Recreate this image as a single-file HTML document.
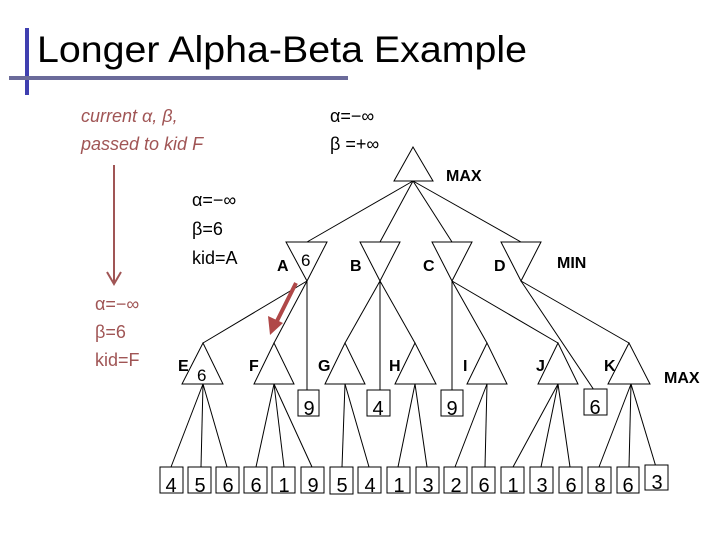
<!DOCTYPE html>
<html><head><meta charset="utf-8"><style>
html,body{margin:0;padding:0;background:#fff;}
svg{display:block;}
text{font-family:"Liberation Sans",sans-serif;}
</style></head><body>
<svg width="720" height="540" viewBox="0 0 720 540" xmlns="http://www.w3.org/2000/svg">
<rect x="0" y="0" width="720" height="540" fill="#fff"/>
<!-- title -->
<rect x="25" y="28" width="4" height="67" fill="#3f3fb0"/>
<rect x="9" y="76" width="339" height="4" fill="#6b6b9a"/>
<text x="37" y="62" font-size="37" fill="#000" textLength="490" lengthAdjust="spacingAndGlyphs">Longer Alpha-Beta Example</text>

<!-- top-left texts -->
<g fill="#a05555" font-size="18" font-style="italic">
<text x="81" y="122">current α, β,</text>
<text x="81" y="150">passed to kid F</text>
</g>
<g fill="#000" font-size="18">
<text x="330" y="122">α=−∞</text>
<text x="330" y="150">β =+∞</text>
<text x="192" y="206">α=−∞</text>
<text x="192" y="235">β=6</text>
<text x="192" y="264">kid=A</text>
</g>
<g fill="#a05555" font-size="18">
<text x="95" y="310">α=−∞</text>
<text x="95" y="338">β=6</text>
<text x="95" y="366">kid=F</text>
</g>
<!-- left arrow -->
<line x1="114" y1="165" x2="114" y2="282" stroke="#a05555" stroke-width="2"/>
<polyline points="107,272 114,284 121,272" fill="none" stroke="#a05555" stroke-width="2"/>

<!-- edges -->
<g stroke="#000" stroke-width="1" fill="none">
<line x1="413" y1="181" x2="307" y2="242"/>
<line x1="413" y1="181" x2="380" y2="242"/>
<line x1="413" y1="181" x2="452" y2="242"/>
<line x1="413" y1="181" x2="521" y2="242"/>
<line x1="307" y1="281" x2="203" y2="343"/>
<line x1="307" y1="281" x2="274" y2="343"/>
<line x1="307" y1="281" x2="307" y2="390"/>
<line x1="380" y1="281" x2="345" y2="343"/>
<line x1="380" y1="281" x2="380" y2="390"/>
<line x1="380" y1="281" x2="415" y2="343"/>
<line x1="452" y1="281" x2="452" y2="390"/>
<line x1="452" y1="281" x2="487" y2="343"/>
<line x1="452" y1="281" x2="558" y2="343"/>
<line x1="521" y1="281" x2="594" y2="390"/>
<line x1="521" y1="281" x2="629" y2="343"/>
<line x1="203" y1="384" x2="171" y2="467"/>
<line x1="203" y1="384" x2="201" y2="467"/>
<line x1="203" y1="384" x2="227" y2="467"/>
<line x1="274" y1="384" x2="256" y2="467"/>
<line x1="274" y1="384" x2="284" y2="467"/>
<line x1="274" y1="384" x2="312" y2="467"/>
<line x1="345" y1="384" x2="342" y2="467"/>
<line x1="345" y1="384" x2="369" y2="467"/>
<line x1="415" y1="384" x2="398" y2="467"/>
<line x1="415" y1="384" x2="427" y2="467"/>
<line x1="487" y1="384" x2="455" y2="467"/>
<line x1="487" y1="384" x2="485" y2="467"/>
<line x1="558" y1="384" x2="513" y2="467"/>
<line x1="558" y1="384" x2="541" y2="467"/>
<line x1="558" y1="384" x2="570" y2="467"/>
<line x1="631" y1="384" x2="599" y2="467"/>
<line x1="631" y1="384" x2="629" y2="467"/>
<line x1="631" y1="384" x2="656" y2="467"/>
</g>

<!-- triangles -->
<g stroke="#000" stroke-width="1" fill="#fff">
<polygon points="413,147 394,181 433,181"/>
<polygon points="286,242 327,242 307,281"/>
<polygon points="360,242 400,242 380,281"/>
<polygon points="432,242 472,242 452,281"/>
<polygon points="501,242 541,242 521,281"/>
</g>
<g stroke="#000" stroke-width="1" fill="none">
<polygon points="203,343 182,384 223,384"/>
<polygon points="274,343 254,384 294,384"/>
<polygon points="345,343 325,384 365,384"/>
<polygon points="415,343 395,384 436,384"/>
<polygon points="487,343 467,384 507,384"/>
<polygon points="558,343 538,384 578,384"/>
<polygon points="629,343 608,384 650,384"/>
</g>

<!-- mid boxes -->
<g stroke="#000" stroke-width="1" fill="#fff">
<rect x="298" y="390" width="21" height="26"/>
<rect x="367" y="390" width="23" height="26"/>
<rect x="441" y="390" width="22" height="26"/>
<rect x="584" y="389" width="23" height="26"/>
</g>
<g font-size="20" fill="#000" text-anchor="middle">
<text x="309" y="415">9</text>
<text x="378" y="415">4</text>
<text x="452" y="415">9</text>
<text x="595" y="414">6</text>
</g>

<!-- leaf boxes -->
<g stroke="#000" stroke-width="1" fill="#fff">
<rect x="160" y="467" width="23" height="26"/>
<rect x="188" y="467" width="23" height="26"/>
<rect x="216" y="467" width="23" height="26"/>
<rect x="244" y="467" width="23" height="26"/>
<rect x="272" y="467" width="23" height="26"/>
<rect x="301" y="467" width="23" height="26"/>
<rect x="330" y="467" width="23" height="27"/>
<rect x="358" y="467" width="23" height="26"/>
<rect x="387" y="467" width="23" height="26"/>
<rect x="416" y="467" width="23" height="26"/>
<rect x="444" y="467" width="23" height="26"/>
<rect x="472" y="467" width="23" height="26"/>
<rect x="501" y="467" width="23" height="26"/>
<rect x="530" y="467" width="23" height="26"/>
<rect x="559" y="467" width="23" height="26"/>
<rect x="588" y="467" width="23" height="26"/>
<rect x="617" y="467" width="22" height="26"/>
<rect x="645" y="465" width="23" height="25"/>
</g>
<g font-size="20" fill="#000" text-anchor="middle">
<text x="171" y="492">4</text>
<text x="200" y="492">5</text>
<text x="228" y="492">6</text>
<text x="256" y="492">6</text>
<text x="284" y="492">1</text>
<text x="313" y="492">9</text>
<text x="342" y="492">5</text>
<text x="370" y="492">4</text>
<text x="399" y="492">1</text>
<text x="428" y="492">3</text>
<text x="456" y="492">2</text>
<text x="484" y="492">6</text>
<text x="513" y="492">1</text>
<text x="542" y="492">3</text>
<text x="571" y="492">6</text>
<text x="600" y="492">8</text>
<text x="628" y="492">6</text>
<text x="657" y="489">3</text>
</g>

<!-- labels -->
<g font-size="16" font-weight="bold" fill="#000">
<text x="446" y="181">MAX</text>
<text x="557" y="268">MIN</text>
<text x="664" y="383">MAX</text>
<text x="277" y="271">A</text>
<text x="350" y="271">B</text>
<text x="423" y="271">C</text>
<text x="494" y="271">D</text>
<text x="178" y="371">E</text>
<text x="249" y="371">F</text>
<text x="318" y="371">G</text>
<text x="389" y="371">H</text>
<text x="463" y="371">I</text>
<text x="536" y="371">J</text>
<text x="604" y="371">K</text>
</g>
<g font-size="17" fill="#000">
<text x="301" y="266">6</text>
<text x="197" y="381">6</text>
</g>

<!-- red arrow -->
<line x1="296" y1="283" x2="275" y2="325" stroke="#b04848" stroke-width="4"/>
<polygon points="268,316 270,335 283,323" fill="#b04848"/>
</svg>
</body></html>
